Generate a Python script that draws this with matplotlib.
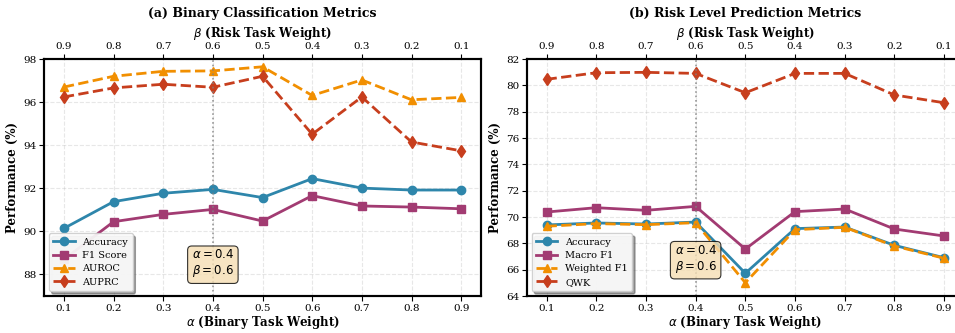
import matplotlib
matplotlib.use("Agg")
import matplotlib.pyplot as plt

alphas = [0.1, 0.2, 0.3, 0.4, 0.5, 0.6, 0.7, 0.8, 0.9]
betas = ["0.9", "0.8", "0.7", "0.6", "0.5", "0.4", "0.3", "0.2", "0.1"]

# (a) binary classification
bin_accuracy = [90.14, 91.38, 91.77, 91.95, 91.57, 92.45, 92.01, 91.92, 91.92]
bin_f1 = [88.7, 90.45, 90.79, 91.02, 90.48, 91.66, 91.18, 91.13, 91.05]
bin_auroc = [96.70, 97.20, 97.43, 97.45, 97.64, 96.31, 97.03, 96.11, 96.22]
bin_auprc = [96.24, 96.66, 96.83, 96.69, 97.20, 94.51, 96.24, 94.15, 93.74]

# (b) risk level prediction
risk_accuracy = [69.40, 69.55, 69.47, 69.62, 65.73, 69.12, 69.24, 67.85, 66.91]
risk_macro_f1 = [70.38, 70.71, 70.51, 70.81, 67.57, 70.41, 70.61, 69.09, 68.56]
risk_weighted_f1 = [69.30, 69.50, 69.42, 69.57, 65.01, 69.04, 69.22, 67.80, 66.87]
risk_qwk = [80.46, 80.96, 80.99, 80.91, 79.44, 80.91, 80.91, 79.27, 78.68]

best_alpha = 0.4

COLORS = ["#2E86AB", "#A23B72", "#F18F01", "#C73E1D"]
MARKERS = ["o", "s", "^", "d"]
STYLES = ["-", "-", "--", "--"]

plt.rcParams["font.family"] = "DejaVu Serif"
plt.rcParams["axes.linewidth"] = 1.5


def draw_panel(ax, series, labels, ylim, yticks, title, box_y):
    for i, (vals, lab) in enumerate(zip(series, labels)):
        ax.plot(
            alphas,
            vals,
            linestyle=STYLES[i],
            marker=MARKERS[i],
            color=COLORS[i],
            linewidth=2,
            markersize=6 if MARKERS[i] != "d" else 6.5,
            label=lab,
        )
    ax.axvline(best_alpha, color="gray", linestyle=":", linewidth=1.2, alpha=0.8)
    ax.text(
        best_alpha,
        box_y,
        r"$\alpha = 0.4$" + "\n" + r"$\beta = 0.6$",
        ha="center",
        va="center",
        fontsize=8.5,
        bbox=dict(boxstyle="round,pad=0.35", facecolor="wheat", alpha=0.8,
                  edgecolor="black", linewidth=0.8),
    )
    ax.set_xlim(0.06, 0.94)
    ax.set_ylim(*ylim)
    ax.set_yticks(yticks)
    ax.set_xticks(alphas)
    ax.set_xticklabels([f"{a:.1f}" for a in alphas])
    ax.tick_params(labelsize=7.5, pad=2)
    ax.set_xlabel(r"$\alpha$ (Binary Task Weight)", fontsize=8.5, fontweight="bold", labelpad=1)
    ax.set_ylabel("Performance (%)", fontsize=8.5, fontweight="bold", labelpad=3)
    ax.grid(True, linestyle="--", alpha=0.3)
    ax.legend(loc="lower left", fontsize=7, shadow=True, fancybox=True,
              framealpha=0.9, borderpad=0.45, labelspacing=0.45, handlelength=2.2)

    top = ax.twiny()
    top.set_xlim(ax.get_xlim())
    top.set_xticks(alphas)
    top.set_xticklabels(betas)
    top.tick_params(labelsize=7.5, pad=2)
    top.set_xlabel(r"$\beta$ (Risk Task Weight)", fontsize=8.5, fontweight="bold", labelpad=4)
    top.set_title(title, fontsize=9, fontweight="bold", pad=6)


fig = plt.figure(figsize=(9.55, 3.33), dpi=100)
ax1 = fig.add_axes([0.0461, 0.111, 0.4576, 0.7117])
ax2 = fig.add_axes([0.5515, 0.111, 0.4579, 0.7117])

draw_panel(ax1, [bin_accuracy, bin_f1, bin_auroc, bin_auprc],
           ["Accuracy", "F1 Score", "AUROC", "AUPRC"],
           (87, 98), [88, 90, 92, 94, 96, 98],
           "(a) Binary Classification Metrics", 88.5)
draw_panel(ax2, [risk_accuracy, risk_macro_f1, risk_weighted_f1, risk_qwk],
           ["Accuracy", "Macro F1", "Weighted F1", "QWK"],
           (64, 82), list(range(64, 83, 2)),
           "(b) Risk Level Prediction Metrics", 66.8)

fig.savefig("out.png", dpi=100)
